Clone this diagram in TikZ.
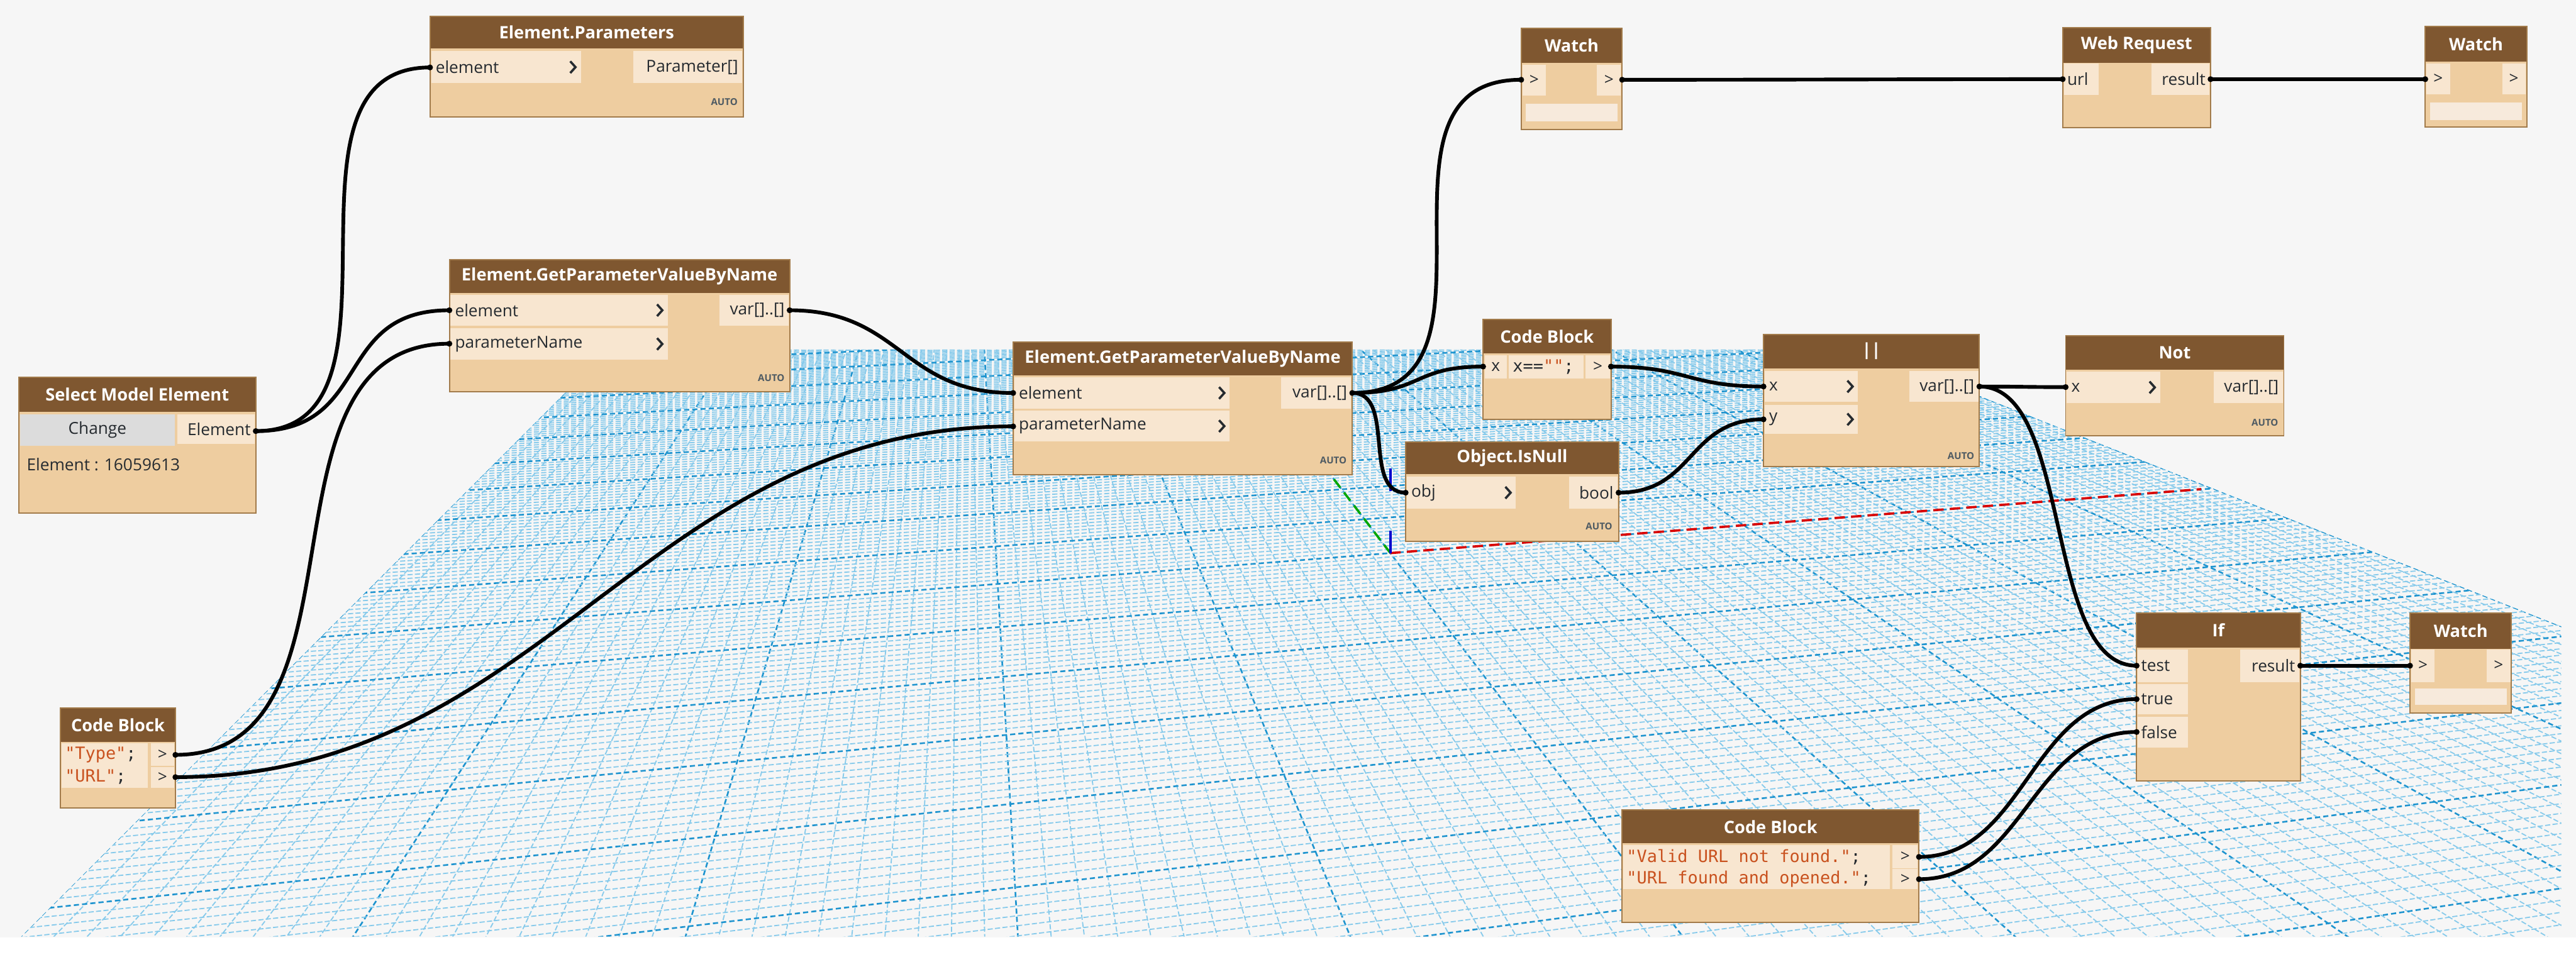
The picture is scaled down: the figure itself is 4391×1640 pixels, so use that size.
\documentclass[tikz,border=0pt]{standalone}
\usepackage{fontspec}
\setmainfont{Open Sans}
\newfontfamily\codefont{DejaVu Sans Mono}
\definecolor{bgc}{HTML}{F6F6F6}
\definecolor{nhead}{HTML}{7F5730}
\definecolor{nbody}{HTML}{EECDA0}
\definecolor{nport}{HTML}{F8E6D0}
\definecolor{nbar}{HTML}{F7EADC}
\definecolor{nedge}{HTML}{A27B4B}
\definecolor{ptxt}{HTML}{262B30}
\definecolor{autoc}{HTML}{4F5B63}
\definecolor{gridA}{HTML}{86CAEB}
\definecolor{gridB}{HTML}{1E94CF}
\definecolor{codestr}{HTML}{C9521F}
\definecolor{btn}{HTML}{DCDCDC}
\tikzset{
  ttl/.style={text=white, font=\fontsize{8.3}{9}\selectfont\bfseries, inner sep=0pt},
  pl/.style={text=ptxt, font=\fontsize{8}{9}\selectfont, inner sep=0pt},
  codet/.style={text=ptxt, font=\codefont\fontsize{8.2}{9}\selectfont, inner sep=0pt},
  autot/.style={text=autoc, font=\fontsize{4.6}{5}\selectfont\bfseries, inner sep=0pt},
  chev/.style={draw=ptxt, line width=1.1pt},
  wire/.style={draw=black, line width=1.8pt},
  knob/.style={fill=black},
  gthin/.style={draw=gridA, line width=0.55pt, dash pattern=on 2.5pt off 1.1pt},
  gthick/.style={draw=gridB, line width=0.8pt, dash pattern=on 2.5pt off 1.5pt},
  axred/.style={draw=red!85!black, line width=1.1pt, dash pattern=on 5pt off 3pt},
  axgreen/.style={draw=green!65!black, line width=1.1pt, dash pattern=on 5pt off 3pt},
  axblue/.style={draw=blue!80!black, line width=1.1pt, dash pattern=on 11pt off 19pt},
}
\newcommand\dnbox[7]{%
  \fill[nbody] (#2,#3) rectangle (#4,#5);
  \fill[nhead] (#2,#3) rectangle (#4,#6);
  \draw[nedge, line width=0.6pt] (#2,#3) rectangle (#4,#5);
  \node[ttl] (#1) at ({(#2+#4)/2},{(#3+#6)/2}) {#7};
}
\newcommand\dnin[6]{%
  \fill[nport] (#2,#3) rectangle (#4,#5);
  \node[pl, anchor=west] (#1) at ({#2+7},{(#3+#5)/2}) {#6};
  \draw[chev] ({#4-18},{(#3+#5)/2-10}) -- ({#4-9},{(#3+#5)/2}) -- ({#4-18},{(#3+#5)/2+10});
}
\newcommand\dnout[6]{%
  \fill[nport] (#2,#3) rectangle (#4,#5);
  \node[pl, anchor=east] (#1) at ({#4-6},{(#3+#5)/2}) {#6};
}
\newcommand\dnlbl[6]{%
  \fill[nport] (#2,#3) rectangle (#4,#5);
  \node[pl, anchor=west] (#1) at ({#2+5},{(#3+#5)/2}) {#6};
}
\newcommand\dnctr[6]{%
  \fill[nport] (#2,#3) rectangle (#4,#5);
  \node[pl] (#1) at ({(#2+#4)/2},{(#3+#5)/2}) {#6};
}
\newcommand\dnauto[3]{\node[autot, anchor=east] (#1) at (#2,#3) {AUTO};}
\begin{document}
\begin{tikzpicture}[x=0.01cm,y=-0.01cm]
\useasboundingbox (0,0) rectangle (4391,1640);
\fill[bgc] (0,0) rectangle (4391,1640);
\fill[white] (0,1598) rectangle (4391,1640);
% ---------------- perspective grid ----------------
\begin{scope}
\clip (1037,596) -- (3174,596) -- (4366,1068) -- (4366,1597) -- (36,1597) -- cycle;
\foreach \u in {-50,...,50} {
  \pgfmathsetmacro\bx{2867+56.6*\u}
  \pgfmathsetmacro\xa{1643+(\bx-1643)*0.3676}
  \pgfmathsetmacro\xb{1643+(\bx-1643)*1.028}
  \pgfmathtruncatemacro\m{mod(abs(\u),10)}
  \ifnum\m=0 \draw[gthick] (\xa,580) -- (\xb,1640);
  \else \draw[gthin] (\xa,580) -- (\xb,1640); \fi
}
\foreach \v in {-80,...,120} {
  \pgfmathsetmacro\Y{1480/(1.553+\v/100)}
  \pgfmathsetmacro\xv{1643+0.7629*\Y}
  \pgfmathsetmacro\ra{14500/(14500-\xv)}
  \pgfmathsetmacro\rb{10109/(14500-\xv)}
  \pgfmathsetmacro\ya{-10+\Y*\ra}
  \pgfmathsetmacro\yb{-10+\Y*\rb}
  \pgfmathtruncatemacro\m{mod(abs(\v),10)}
  \ifnum\m=0 \draw[gthick] (0,\ya) -- (4391,\yb);
  \else \draw[gthin] (0,\ya) -- (4391,\yb); \fi
}
\end{scope}
% axes
\coordinate (ax-o) at (2370,943);
\coordinate (ax-x) at (3752,834);
\coordinate (ax-y) at (2240,773);
\coordinate (ax-z) at (2370,786);
\draw[axred] (ax-o) -- (ax-x);
\draw[axgreen] (ax-o) -- (ax-y);
\draw[axblue] (ax-o) -- (ax-z);
% ---------------- port coordinates ----------------
\coordinate (sme-o) at (436,735);
\coordinate (ep-i) at (733,115);
\coordinate (g1-i1) at (766,529);
\coordinate (g1-i2) at (766,586);
\coordinate (g1-o) at (1346,529);
\coordinate (g2-i1) at (1727,670);
\coordinate (g2-i2) at (1727,727);
\coordinate (g2-o) at (2305,670);
\coordinate (cbm-i) at (2528,625);
\coordinate (cbm-o) at (2746,625);
\coordinate (isn-i) at (2396,840);
\coordinate (isn-o) at (2759,840);
\coordinate (or-ix) at (3006,659);
\coordinate (or-iy) at (3006,715);
\coordinate (or-o) at (3374,659);
\coordinate (not-i) at (3521,660);
\coordinate (w1-i) at (2593,136);
\coordinate (w1-o) at (2765,136);
\coordinate (wr-i) at (3516,135);
\coordinate (wr-o) at (3768,135);
\coordinate (w2-i) at (4134,135);
\coordinate (if-it) at (3642,1135);
\coordinate (if-itr) at (3642,1192);
\coordinate (if-if) at (3642,1248);
\coordinate (if-o) at (3921,1135);
\coordinate (w3-i) at (4108,1135);
\coordinate (cbb-o1) at (3271,1461);
\coordinate (cbb-o2) at (3271,1499);
\coordinate (cbl-o1) at (299,1287);
\coordinate (cbl-o2) at (299,1325);
% ---------------- wires ----------------
\draw[wire] (sme-o) .. controls +(290,0) and +(-290,0) .. (ep-i);
\draw[wire] (sme-o) .. controls +(200,0) and +(-200,0) .. (g1-i1);
\draw[wire] (cbl-o1) .. controls +(350,0) and +(-350,0) .. (g1-i2);
\draw[wire] (cbl-o2) .. controls +(630,0) and +(-630,0) .. (g2-i2);
\draw[wire] (g1-o) .. controls +(190,0) and +(-190,0) .. (g2-i1);
\draw[wire] (g2-o) .. controls +(290,0) and +(-290,0) .. (w1-i);
\draw[wire] (g2-o) .. controls +(120,0) and +(-120,0) .. (cbm-i);
\draw[wire] (g2-o) .. controls +(75,0) and +(-75,0) .. (isn-i);
\draw[wire] (cbm-o) .. controls +(130,0) and +(-130,0) .. (or-ix);
\draw[wire] (isn-o) .. controls +(130,0) and +(-130,0) .. (or-iy);
\draw[wire] (or-o) .. controls +(70,0) and +(-70,0) .. (not-i);
\draw[wire] (or-o) .. controls +(160,0) and +(-160,0) .. (if-it);
\draw[wire] (w1-o) .. controls +(300,0) and +(-300,0) .. (wr-i);
\draw[wire] (wr-o) .. controls +(150,0) and +(-150,0) .. (w2-i);
\draw[wire] (if-o) .. controls +(80,0) and +(-80,0) .. (w3-i);
\draw[wire] (cbb-o1) .. controls +(180,0) and +(-180,0) .. (if-itr);
\draw[wire] (cbb-o2) .. controls +(180,0) and +(-180,0) .. (if-if);
% ---------------- nodes ----------------
% Select Model Element
\dnbox{sme}{32}{643}{436}{875}{702}{Select Model Element}
\fill[btn] (34,706) rectangle (298,760);
\node[pl] (sme-chg) at (166,733) {Change};
\dnout{sme-el}{302}{706}{434}{757}{Element}
\node[pl, anchor=west] (sme-val) at (45,792) {Element : 16059613};
% Element.Parameters
\dnbox{ep}{733}{28}{1267}{199}{83}{Element.Parameters}
\dnin{ep-el}{735}{87}{990}{142}{element}
\dnout{ep-par}{1079}{87}{1265}{142}{Parameter[]}
\dnauto{ep-auto}{1258}{174}
% Element.GetParameterValueByName (1)
\dnbox{g1}{766}{443}{1346}{668}{500}{Element.GetParameterValueByName}
\dnin{g1-el}{768}{503}{1138}{555}{element}
\dnin{g1-pn}{768}{560}{1138}{613}{parameterName}
\dnout{g1-var}{1226}{503}{1344}{555}{var[]..[]}
\dnauto{g1-auto}{1338}{644}
% Element.GetParameterValueByName (2)
\dnbox{g2}{1727}{583}{2305}{809}{640}{Element.GetParameterValueByName}
\dnin{g2-el}{1729}{643}{2096}{697}{element}
\dnin{g2-pn}{1729}{700}{2096}{753}{parameterName}
\dnout{g2-var}{2184}{643}{2303}{697}{var[]..[]}
\dnauto{g2-auto}{2296}{785}
% Code Block x==""
\dnbox{cbm}{2528}{545}{2746}{715}{603}{Code Block}
\dnctr{cbm-x}{2531}{606}{2568}{645}{x}
\fill[nport] (2572,606) rectangle (2699,645);
\node[codet, anchor=west] (cbm-code) at (2578,626) {x==\textcolor{codestr}{""};};
\dnctr{cbm-gt}{2703}{606}{2744}{645}{>}
% Object.IsNull
\dnbox{isn}{2396}{754}{2759}{923}{808}{Object.IsNull}
\dnin{isn-obj}{2398}{813}{2584}{867}{obj}
\dnout{isn-bool}{2675}{813}{2757}{867}{bool}
\dnauto{isn-auto}{2749}{897}
% ||
\dnbox{or}{3006}{570}{3374}{795}{628}{||}
\dnin{or-x}{3008}{633}{3167}{685}{x}
\dnin{or-y}{3008}{690}{3167}{740}{y}
\dnout{or-var}{3255}{633}{3372}{685}{var[]..[]}
\dnauto{or-auto}{3366}{777}
% Not
\dnbox{not}{3521}{572}{3893}{743}{630}{Not}
\dnin{not-x}{3523}{634}{3682}{687}{x}
\dnout{not-var}{3773}{634}{3891}{687}{var[]..[]}
\dnauto{not-auto}{3884}{720}
% Watch (top)
\dnbox{w1}{2593}{48}{2765}{221}{107}{Watch}
\dnctr{w1-a}{2595}{110}{2635}{163}{>}
\dnctr{w1-b}{2722}{110}{2763}{163}{>}
\fill[nbar] (2601,177) rectangle (2757,207);
% Web Request
\dnbox{wr}{3516}{47}{3768}{218}{107}{Web Request}
\dnlbl{wr-url}{3518}{108}{3577}{162}{url}
\dnout{wr-res}{3667}{108}{3766}{162}{result}
% Watch (top right)
\dnbox{w2}{4134}{45}{4307}{217}{105}{Watch}
\dnctr{w2-a}{4136}{108}{4176}{161}{>}
\dnctr{w2-b}{4265}{108}{4305}{161}{>}
\fill[nbar] (4142,175) rectangle (4299,205);
% If
\dnbox{if}{3642}{1045}{3921}{1331}{1104}{If}
\dnlbl{if-test}{3644}{1107}{3729}{1163}{test}
\dnlbl{if-true}{3644}{1166}{3729}{1218}{true}
\dnlbl{if-false}{3644}{1222}{3729}{1275}{false}
\dnout{if-res}{3818}{1107}{3919}{1163}{result}
% Watch (bottom right)
\dnbox{w3}{4108}{1045}{4281}{1216}{1106}{Watch}
\dnctr{w3-a}{4110}{1107}{4150}{1163}{>}
\dnctr{w3-b}{4239}{1107}{4279}{1163}{>}
\fill[nbar] (4116,1174) rectangle (4273,1202);
% Code Block (bottom)
\dnbox{cbb}{2765}{1381}{3271}{1573}{1438}{Code Block}
\fill[nport] (2767,1441) rectangle (3221,1516);
\node[codet, anchor=west] (cbb-l1) at (2772,1461) {\textcolor{codestr}{"Valid URL not found."};};
\node[codet, anchor=west] (cbb-l2) at (2772,1499) {\textcolor{codestr}{"URL found and opened."};};
\dnctr{cbb-p1}{3226}{1441}{3269}{1480}{>}
\dnctr{cbb-p2}{3226}{1482}{3269}{1516}{>}
% Code Block (left)
\dnbox{cbl}{103}{1207}{299}{1378}{1265}{Code Block}
\fill[nport] (105,1267) rectangle (252,1343);
\node[codet, anchor=west] (cbl-l1) at (110,1287) {\textcolor{codestr}{"Type"};};
\node[codet, anchor=west] (cbl-l2) at (110,1325) {\textcolor{codestr}{"URL"};};
\dnctr{cbl-p1}{257}{1267}{297}{1306}{>}
\dnctr{cbl-p2}{257}{1308}{297}{1343}{>}
% ---------------- wire knobs ----------------
\foreach \c in {sme-o,ep-i,g1-i1,g1-i2,g1-o,g2-i1,g2-i2,g2-o,cbm-i,cbm-o,isn-i,isn-o,or-ix,or-iy,or-o,not-i,w1-i,w1-o,wr-i,wr-o,w2-i,if-it,if-itr,if-if,if-o,w3-i,cbb-o1,cbb-o2,cbl-o1,cbl-o2}
  \fill[knob] (\c) circle (5);
\end{tikzpicture}
\end{document}
